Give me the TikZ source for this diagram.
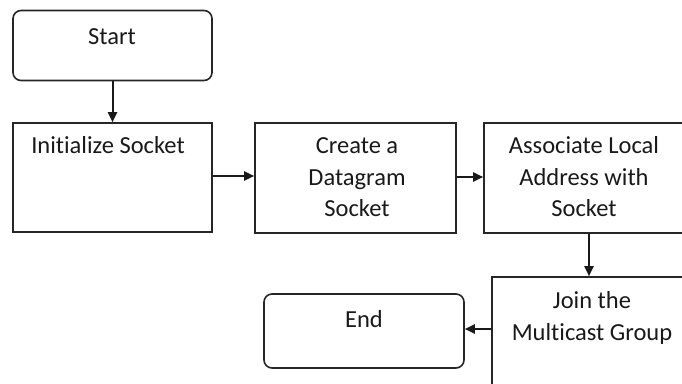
\documentclass[tikz,border=0pt]{standalone}
\usepackage{fontspec}
\setmainfont{Carlito}[RawFeature={-liga}]
\usetikzlibrary{arrows.meta}
\begin{document}
\begin{tikzpicture}[x=1pt,y=-1pt,
  box/.style={draw=black!85,line width=1.6pt,rectangle,inner sep=0pt},
  term/.style={box,rounded corners=8pt},
  lbl/.style={font=\fontsize{24.5}{31.7}\selectfont,align=center,anchor=base,inner sep=0pt,text=black!90},
  arr/.style={draw=black!90,line width=2pt,-{Triangle[length=10pt,width=9pt]}}]
\useasboundingbox (0,0) rectangle (682,383);
\clip (0,0) rectangle (682,383);
% boxes
\node[term,minimum width=199pt,minimum height=70pt] (start) at (112.5,45.5) {};
\node[box,minimum width=199pt,minimum height=109pt] (init) at (112.5,177.5) {};
\node[box,minimum width=201pt,minimum height=110pt] (create) at (355.5,178) {};
\node[box,minimum width=200pt,minimum height=110pt] (assoc) at (584,178) {};
\node[box,minimum width=200pt,minimum height=130pt] (join) at (592,342) {};
\node[term,minimum width=200pt,minimum height=74pt] (end) at (364,331) {};
% labels
\node[lbl] (tstart) at (112,44) {Start};
\node[lbl] (tinit) at (108,153) {Initialize Socket};
\node[lbl] (tcreate) at (357,216.7) {Create a\\Datagram\\Socket};
\node[lbl] (tassoc) at (584,216.7) {Associate Local\\Address with\\Socket};
\node[lbl] (tjoin) at (592,340) {Join the\\Multicast Group};
\node[lbl] (tend) at (364,327) {End};
% connectors
\draw[arr] (start.south) -- (init.north);
\draw[arr] (init.east |- 0,176) -- (create.west |- 0,176);
\draw[arr] (create.east |- 0,177) -- (assoc.west |- 0,177);
\draw[arr] (assoc.south -| 589,0) -- (join.north -| 589,0);
\draw[arr] (join.west |- 0,329) -- (end.east |- 0,329);
\end{tikzpicture}
\end{document}
